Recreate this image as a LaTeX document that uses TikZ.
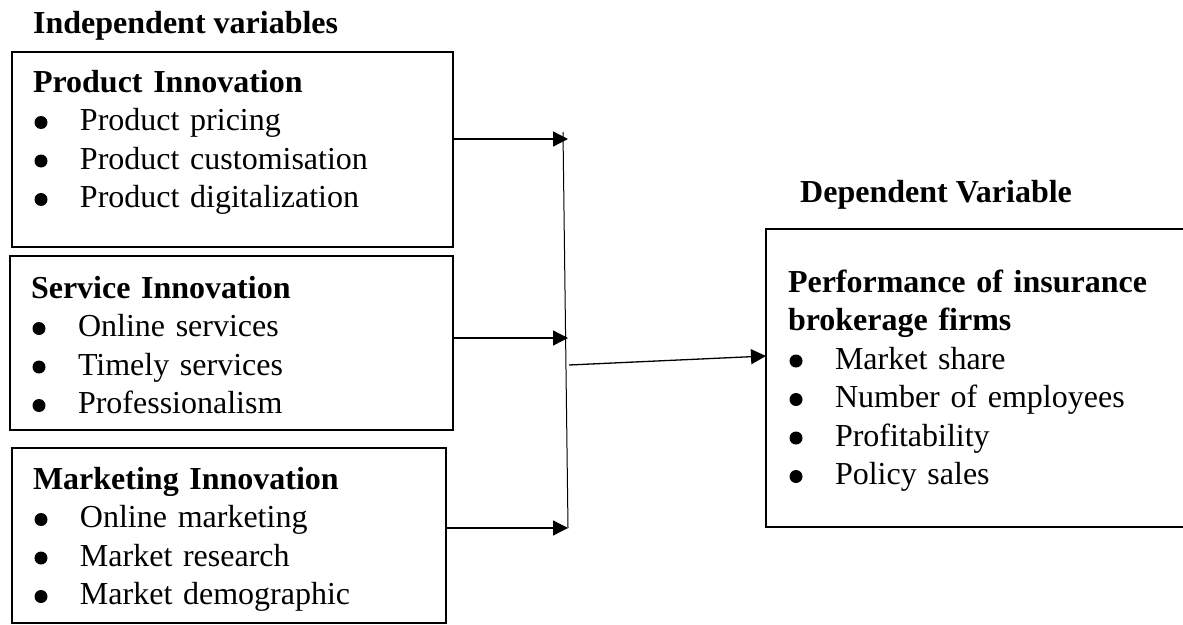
\documentclass[tikz,border=0pt]{standalone}
\usepackage{fontspec}
\setmainfont{Liberation Serif}
\usetikzlibrary{arrows.meta,positioning}
\newcommand{\bitem}[1]{\makebox[47pt][l]{\hspace{1.5pt}\tikz[x=1pt, y=1pt, baseline=-8pt]\fill (0,0) circle[radius=6.5pt];}#1}

\begin{document}
\begin{tikzpicture}[x=1pt, y=-1pt,
  box/.style={draw, line width=2pt, outer sep=0pt, anchor=north west, align=left, inner xsep=21pt, inner ysep=0pt, font=\fontsize{32}{38.5}\selectfont},
  title/.style={anchor=base west, inner sep=0pt, font=\fontsize{32}{38.5}\selectfont\bfseries},
  arr/.style={-{Triangle[length=15pt, width=15pt]}, line width=1.3pt}
]
  \useasboundingbox (0,0) rectangle (1183,624);
  \node[title] (indep) at (33,33) {Independent variables};
  \node[title] (dep) at (800,202) {Dependent Variable};
  \node[box, text width=399pt, text height=40pt, text depth=155pt] (prod) at (12,52)
    {\textbf{Product Innovation}\\ \bitem{Product pricing}\\ \bitem{Product customisation}\\ \bitem{Product digitalization}};
  \node[box, text width=401pt, text height=42pt, text depth=132pt] (serv) at (10,256)
    {\textbf{Service Innovation}\\ \bitem{Online services}\\ \bitem{Timely services}\\ \bitem{Professionalism}};
  \node[box, text width=392pt, text height=41pt, text depth=134pt] (mark) at (12,448)
    {\textbf{Marketing Innovation}\\ \bitem{Online marketing}\\ \bitem{Market research}\\ \bitem{Market demographic}};
  \node[box, inner xsep=22pt, text width=385pt, text height=63pt, text depth=235pt] (perf) at (766,229)
    {\textbf{Performance of insurance}\\ \textbf{brokerage firms}\\ \bitem{Market share}\\ \bitem{Number of employees}\\ \bitem{Profitability}\\ \bitem{Policy sales}};
  \coordinate (vtop) at (563,132);
  \coordinate (j1) at (568,139);
  \coordinate (j2) at (568,338);
  \coordinate (j3) at (568,528);
  \coordinate (jout) at (569,365);
  \draw[line width=1pt] (vtop) -- (j3);
  \draw[arr] (prod.east |- j1) -- (j1);
  \draw[arr] (serv.east |- j2) -- (j2);
  \draw[arr] (mark.east |- j3) -- (j3);
  \draw[arr] (jout) -- ([yshift=22pt]perf.west);
\end{tikzpicture}
\end{document}
